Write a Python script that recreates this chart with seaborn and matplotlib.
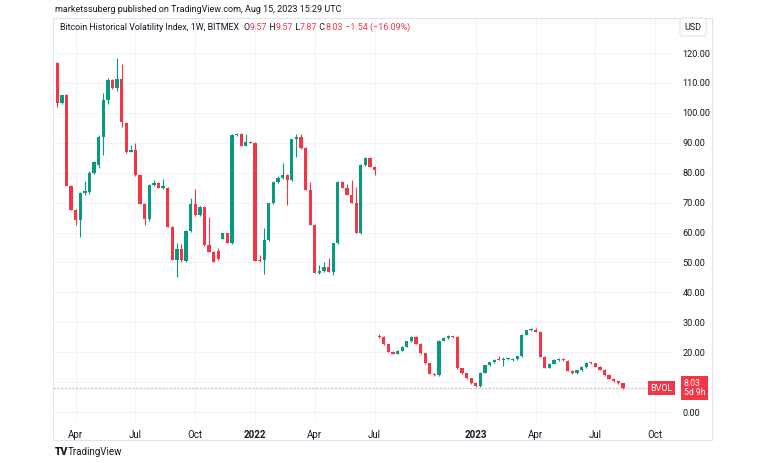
import numpy as np
import pandas as pd
import matplotlib
matplotlib.use('Agg')
import matplotlib.pyplot as plt
import seaborn as sns
from matplotlib.patches import Rectangle

# BVOL weekly candles, two runs of data (gap in July 2022)
seg1_start = '2021-03-08'
seg2_start = '2022-08-08'

open_1 = [116.5, 103.2, 106.0, 75.5, 67.7, 64.2, 73.1, 73.6, 79.8, 82.6,
          92.0, 104.3, 111.0, 108.2, 111.2, 96.7, 87.0, 87.5, 79.2, 69.7,
          64.4, 75.9, 76.5, 74.8, 75.0, 62.0, 50.8, 54.5, 50.5, 60.5,
          69.4, 65.8, 68.6, 55.8, 53.6, 54.0, 58.0, 59.7, 56.4, 92.6,
          93.0, 89.0, 90.2, 90.0, 50.8, 50.8, 57.5, 69.8, 76.8, 78.1,
          79.2, 77.5, 91.2, 92.0, 88.3, 74.2, 62.5, 46.4, 47.0, 48.6,
          46.9, 56.4, 77.0, 74.8, 72.5, 69.8, 59.7, 82.6, 85.0, 82.0]
high_1 = [117.0, 106.0, 106.3, 75.8, 68.0, 73.5, 77.2, 80.5, 84.0, 92.6,
          106.5, 111.5, 111.3, 118.4, 116.2, 97.0, 89.2, 89.8, 79.5, 70.0,
          76.3, 77.5, 76.8, 78.0, 75.3, 62.3, 56.4, 56.2, 60.8, 71.4,
          74.4, 69.0, 68.8, 65.3, 54.0, 55.0, 60.0, 60.0, 92.8, 93.3,
          93.2, 93.0, 90.5, 90.2, 52.5, 61.4, 70.0, 77.0, 79.0, 83.1,
          79.5, 91.4, 93.0, 93.0, 88.5, 76.8, 62.7, 49.0, 50.0, 51.6,
          56.6, 77.2, 77.3, 76.3, 77.5, 75.3, 82.8, 85.2, 85.2, 82.3]
low_1 = [102.0, 103.0, 75.5, 67.7, 62.5, 58.6, 72.5, 73.0, 79.5, 81.5,
         86.0, 103.0, 108.0, 107.3, 95.4, 86.5, 86.8, 79.0, 69.7, 62.5,
         64.0, 75.5, 74.8, 74.6, 62.0, 50.8, 45.2, 50.0, 50.2, 60.2,
         65.5, 65.5, 55.6, 53.4, 50.0, 51.0, 57.7, 56.4, 56.2, 92.3,
         89.0, 88.8, 89.8, 50.5, 50.3, 46.0, 57.3, 69.6, 76.5, 77.8,
         69.2, 77.3, 85.3, 88.0, 74.2, 62.5, 46.4, 46.2, 46.8, 46.7,
         45.8, 56.2, 74.8, 72.5, 69.8, 59.7, 59.5, 82.4, 82.0, 79.4]
close_1 = [103.2, 106.0, 75.5, 67.7, 64.2, 73.1, 74.0, 79.8, 83.5, 92.0,
           104.3, 111.0, 108.2, 111.2, 97.0, 87.0, 87.5, 79.2, 69.7, 64.4,
           75.9, 76.5, 74.8, 75.4, 62.0, 50.8, 54.5, 50.8, 60.5, 69.4,
           65.8, 68.6, 55.8, 53.6, 50.2, 51.3, 59.7, 56.4, 92.6, 93.0,
           89.0, 90.2, 90.0, 50.5, 50.6, 57.5, 69.8, 76.8, 78.1, 79.2,
           77.5, 91.2, 92.0, 88.3, 74.2, 62.5, 46.4, 47.0, 48.6, 46.9,
           56.4, 77.0, 74.8, 72.5, 69.8, 59.7, 82.6, 85.0, 82.0, 81.0]

open_2 = [25.6, 25.2, 22.7, 20.2, 19.5, 20.5, 21.9, 23.6, 25.2, 22.8,
          19.6, 16.3, 12.8, 12.3, 23.9, 24.8, 25.3, 25.1, 14.7, 13.0,
          11.3, 9.7, 8.6, 13.2, 15.6, 16.6, 17.9, 17.5, 17.6, 17.4,
          17.7, 18.6, 25.9, 27.4, 27.6, 26.9, 18.5, 14.8, 16.2, 17.4,
          17.9, 17.2, 13.8, 13.0, 14.0, 15.1, 16.4, 16.3, 15.2, 14.2,
          12.4, 11.2, 10.3, 9.57]
high_2 = [26.0, 25.4, 22.9, 20.4, 20.7, 22.1, 23.8, 25.4, 25.4, 23.0,
          19.8, 16.5, 13.0, 24.1, 25.0, 25.9, 25.6, 25.3, 14.9, 13.2,
          11.5, 9.9, 13.4, 15.8, 16.8, 17.6, 18.6, 18.3, 18.2, 18.0,
          18.8, 26.1, 27.6, 28.2, 28.1, 27.1, 18.7, 16.4, 17.6, 18.1,
          18.1, 17.4, 14.0, 14.2, 15.3, 16.6, 16.8, 16.5, 15.4, 14.4,
          12.6, 11.4, 10.5, 9.57]
low_2 = [24.8, 22.5, 20.0, 19.3, 19.3, 20.3, 21.7, 23.4, 22.6, 19.4,
         16.1, 12.6, 12.1, 12.1, 23.7, 24.6, 24.9, 14.5, 12.8, 11.1,
         9.5, 8.4, 8.4, 13.0, 15.4, 16.4, 17.3, 15.5, 17.4, 17.2,
         17.5, 18.4, 25.7, 27.2, 26.7, 18.3, 14.6, 14.6, 16.0, 17.2,
         17.2, 13.6, 12.8, 12.8, 13.8, 14.9, 16.1, 15.0, 14.0, 12.2,
         11.0, 10.1, 9.4, 7.87]
close_2 = [25.0, 22.7, 20.2, 19.5, 20.5, 21.9, 23.6, 25.2, 22.8, 19.6,
           16.3, 12.8, 12.3, 23.9, 24.8, 25.3, 25.1, 14.7, 13.0, 11.3,
           9.7, 8.6, 13.2, 15.6, 16.6, 17.4, 17.5, 17.7, 18.0, 17.8,
           18.6, 25.9, 27.4, 27.8, 26.9, 18.5, 14.8, 16.2, 17.4, 17.9,
           17.4, 13.8, 13.0, 14.0, 15.1, 16.4, 16.3, 15.2, 14.2, 12.4,
           11.2, 10.3, 9.57, 8.03]

tick_months = ['2021-04', '2021-07', '2021-10', '2022-01', '2022-04', '2022-07',
               '2023-01', '2023-04', '2023-07', '2023-10']
price_ticks = list(range(0, 121, 10))

green = '#089981'
red = '#F23645'
txt = '#131722'

#dataframe
d1 = pd.date_range(seg1_start, periods=len(open_1), freq='W-MON')
d2 = pd.date_range(seg2_start, periods=len(open_2), freq='W-MON')
df = pd.DataFrame({'date': d1.append(d2),
                   'open': open_1 + open_2, 'high': high_1 + high_2,
                   'low': low_1 + low_2, 'close': close_1 + close_2})
df['i'] = np.arange(len(df))
df['up'] = df['close'] >= df['open']

# bar index for future weeks too (needed for the Oct label)
future = pd.date_range(df['date'].iloc[-1] + pd.Timedelta(weeks=1), periods=12, freq='W-MON')
all_dates = pd.Series(df['date'].tolist() + future.tolist())
months = all_dates.dt.strftime('%Y-%m')
tick_pos, tick_lab = [], []
for m in tick_months:
    idx = int(np.where(months == m)[0][0])
    tick_pos.append(idx)
    ts = pd.Timestamp(m + '-01')
    tick_lab.append(str(ts.year) if ts.month == 1 else ts.strftime('%b'))

sns.set_theme(style='white')
plt.rcParams['font.family'] = ['Roboto', 'DejaVu Sans']

W, H = 768, 463
fig = plt.figure(figsize=(W / 100, H / 100), dpi=100)
L, R, T, B = 53, 674, 18, 422
ax = fig.add_axes([L / W, 1 - B / H, (R - L) / W, (B - T) / H])

colors = np.where(df['up'], green, red)
ax.vlines(df['i'], df['low'], df['high'], colors=colors, linewidth=0.8, zorder=2)
body_lo = df[['open', 'close']].min(axis=1)
body_h = (df['close'] - df['open']).abs().clip(lower=0.35)
ax.bar(df['i'], body_h, bottom=body_lo, width=0.72, color=colors, linewidth=0, zorder=3)

last = df.iloc[-1]
prev = df.iloc[-2]
ax.axhline(last['close'], color='#c9cbd1', lw=0.9, ls=(0, (2, 1)), zorder=1)

ax.set_xlim(-0.93, 134.1)
ax.set_ylim(-3.3, 131.7)
ax.set_xticks(tick_pos)
ax.set_xticklabels(tick_lab)
for lab in ax.get_xticklabels():
    if lab.get_text().isdigit():
        lab.set_fontweight('bold')
ax.yaxis.tick_right()
ax.set_yticks(price_ticks)
ax.set_yticklabels([f'{v:.2f}' for v in price_ticks])
ax.tick_params(axis='both', length=0, labelsize=7, colors=txt)
ax.tick_params(axis='y', pad=6, labelsize=6.6)
ax.tick_params(axis='x', pad=6)
ax.grid(True, color='#f0f3fa', lw=0.8)
ax.set_axisbelow(True)
for s in ax.spines.values():
    s.set_visible(False)

# labels on the last price
ax.text(0.998, last['close'], 'BVOL', transform=ax.get_yaxis_transform(), ha='right', va='center',
        fontsize=6.5, color='white', zorder=5,
        bbox=dict(boxstyle='square,pad=0.25', fc=red, ec='none'))
ax.text((684 - L) / (R - L), last['close'], f"{last['close']:.2f}\n5d 9h", transform=ax.get_yaxis_transform(),
        ha='left', va='center', fontsize=6.3, color='white', zorder=6, clip_on=False, linespacing=1.1,
        bbox=dict(boxstyle='square,pad=0.3', fc=red, ec='none'))

# frame and header
fig.patches.append(Rectangle((L / W, 1 - 440 / H), (712 - L) / W, (440 - T) / H, transform=fig.transFigure,
                             fill=False, edgecolor='#e0e3eb', lw=0.8))
fig.text(693 / W, 1 - 27 / H, 'USD', ha='center', va='center', fontsize=6.5, color=txt,
         bbox=dict(boxstyle='round,pad=0.5,rounding_size=0.3', fc='white', ec='#e0e3eb', lw=0.8))
fig.text(55 / W, 1 - 10 / H, 'marketssuberg published on TradingView.com, Aug 15, 2023 15:29 UTC',
         fontsize=6.5, color=txt, va='center')

chg = last['close'] - prev['close']
pieces = [('Bitcoin Historical Volatility Index, 1W, BITMEX  ', txt), ('O', txt), (f"{last['open']:.2f}", red),
          (' H', txt), (f"{last['high']:.2f}", red), (' L', txt), (f"{last['low']:.2f}", red),
          (' C', txt), (f"{last['close']:.2f}", red),
          (f" \u2212{abs(chg):.2f} (\u2212{abs(chg) / prev['close'] * 100:.2f}%)", red)]
fig.canvas.draw()
rend = fig.canvas.get_renderer()
x = 60
for s, c in pieces:
    t = fig.text(x / W, 1 - 27 / H, s, fontsize=6.4, color=c, va='center')
    x += t.get_window_extent(rend).width

fig.text(55 / W, 1 - 452 / H, 'TV', fontsize=7.5, fontweight='heavy', color=txt, va='center')
fig.text(68 / W, 1 - 452 / H, 'TradingView', fontsize=7, color=txt, va='center')

fig.savefig('out.png', dpi=100)
